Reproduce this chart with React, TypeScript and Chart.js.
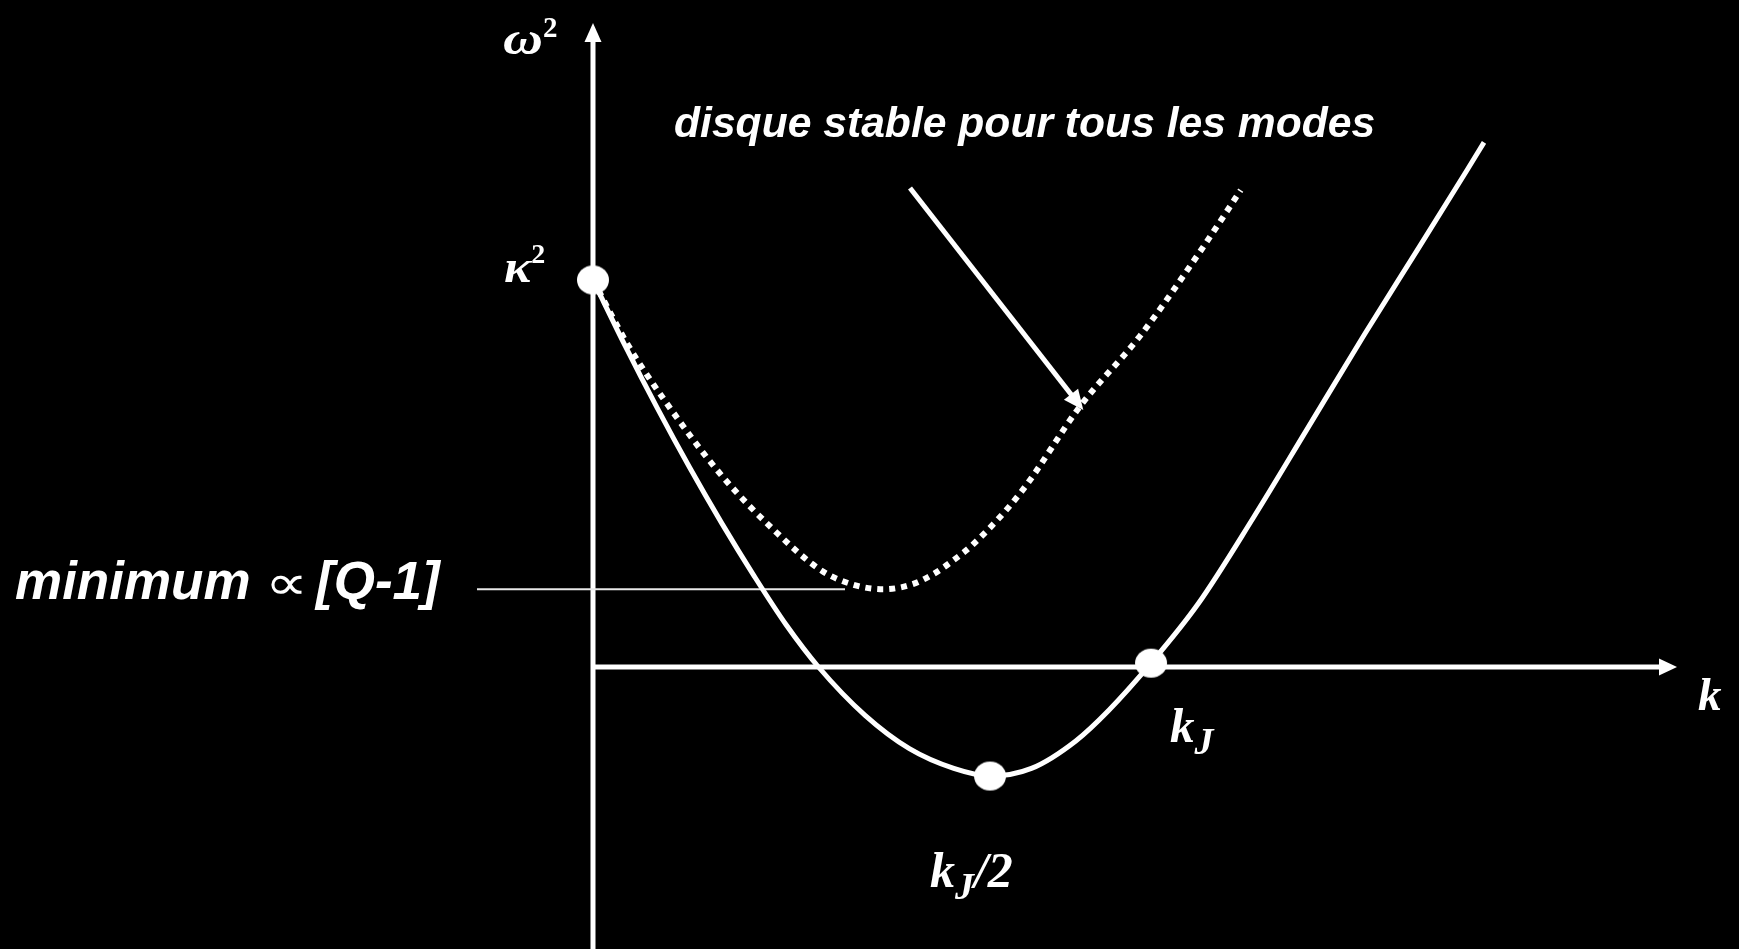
import React, { useEffect, useRef } from "react";
import { Chart, registerables } from "chart.js";

Chart.register(...registerables);

// k in units of k_J, ω² in units of κ²
// solid branch: the disc that goes unstable between the two zero crossings
const unstableK = [0, 0.0577, 0.1155, 0.1732, 0.2309, 0.2886, 0.3464, 0.4041, 0.4876, 0.567, 0.6466, 0.7115, 0.7857, 0.8652, 0.9249, 1.0, 1.0839, 1.1831, 1.2787, 1.3819, 1.4814, 1.5668, 1.5968];
const unstableW2 = [1.0, 0.8298, 0.6682, 0.5153, 0.3711, 0.2355, 0.1085, 0.0, -0.125, -0.211, -0.262, -0.2817, -0.262, -0.191, -0.111, 0.01, 0.162, 0.385, 0.612, 0.858, 1.087, 1.285, 1.3555];

// dotted branch: stable for every mode
const stableK = [0, 0.0627, 0.1298, 0.2292, 0.3285, 0.4099, 0.4665, 0.5197, 0.5722, 0.6111, 0.6464, 0.6798, 0.7652, 0.8746, 0.9803, 1.0878, 1.1608];
const stableW2 = [1.0, 0.832, 0.686, 0.497, 0.348, 0.2488, 0.2127, 0.2008, 0.2137, 0.2411, 0.2765, 0.3152, 0.4483, 0.677, 0.8553, 1.0731, 1.232];

// marked points: κ² at k = 0, the bottom at k_J/2, the crossing at k_J
const markK = [0, 0.7115, 1.0];
const markW2 = [1.0, -0.2817, 0.01];

// level of the stable minimum and the reach of its guide line
const stableMinW2 = 0.2008;
const minLineK = [-0.2079, 0.4516];

// pointer from the caption down to the dotted curve
const pointerK = [0.5681, 0.8787];
const pointerW2 = [1.2377, 0.6641];

// axis ends and view window
const kAxisEnd = 1.9427;
const w2AxisEnd = 1.6641;
const kRange = [-1.06272, 2.05376];
const w2Range = [-0.72868, 1.72351];

const caption = "disque stable pour tous les modes";
const minCaption = ["minimum", "∝", "[Q-1]"];

const serifBI = (px: number) => `italic bold ${px}px 'Liberation Serif', 'Times New Roman', serif`;
const serifB = (px: number) => `bold ${px}px 'Liberation Serif', 'Times New Roman', serif`;
const sansBI = (px: number) => `italic bold ${px}px 'Liberation Sans', Arial, sans-serif`;

// x: absolute offset from the anchor (px), sx: horizontal scale of the run
type Seg = { t: string; f: string; dy?: number; x?: number; sx?: number };
type Label = { k: number; w2: number; segs: Seg[] };

const labels: Label[] = [
  { k: -0.1613, w2: 1.584, segs: [{ t: "ω", f: serifBI(46), sx: 1.2 }, { t: "2", f: serifB(29), dy: -17 }] },
  { k: -0.1595, w2: 0.995, segs: [{ t: "κ", f: serifBI(46), sx: 1.12 }, { t: "2", f: serifB(28), dy: -19 }] },
  { k: 1.9803, w2: -0.1111, segs: [{ t: "k", f: serifBI(47) }] },
  { k: 1.0341, w2: -0.1938, segs: [{ t: "k", f: serifBI(49) }, { t: "J", f: serifBI(38), dy: 12 }] },
  {
    k: 0.6039,
    w2: -0.5685,
    segs: [{ t: "k", f: serifBI(50) }, { t: "J", f: serifBI(38), dy: 12 }, { t: "/2", f: serifBI(50) }],
  },
  { k: 0.1452, w2: 1.3695, segs: [{ t: caption, f: sansBI(42), sx: 1.015 }] },
  {
    k: -1.0394,
    w2: 0.1757,
    segs: [
      { t: minCaption[0], f: sansBI(53), x: 2 },
      { t: minCaption[1], f: "48px 'DejaVu Sans', sans-serif", sx: 1.25, x: 252 },
      { t: minCaption[2], f: sansBI(53), x: 303 },
    ],
  },
];

function arrowHead(ctx: CanvasRenderingContext2D, x: number, y: number, ang: number, len: number, wid: number) {
  ctx.save();
  ctx.translate(x, y);
  ctx.rotate(ang);
  ctx.beginPath();
  ctx.moveTo(0, 0);
  ctx.lineTo(-len, -wid / 2);
  ctx.lineTo(-len, wid / 2);
  ctx.closePath();
  ctx.fill();
  ctx.restore();
}

const overlay = {
  id: "overlay",
  beforeDraw(chart: any) {
    const { ctx, width, height } = chart;
    ctx.save();
    ctx.fillStyle = "#000";
    ctx.fillRect(0, 0, width, height);
    ctx.restore();
  },
  beforeDatasetsDraw(chart: any) {
    const { ctx } = chart;
    const xs = chart.scales.x;
    const ys = chart.scales.y;
    const X = (v: number) => xs.getPixelForValue(v);
    const Y = (v: number) => ys.getPixelForValue(v);
    ctx.save();
    ctx.strokeStyle = "#fff";
    ctx.fillStyle = "#fff";
    ctx.lineWidth = 5;
    ctx.lineCap = "butt";
    ctx.beginPath();
    ctx.moveTo(X(0), chart.height);
    ctx.lineTo(X(0), Y(w2AxisEnd) + 16);
    ctx.moveTo(X(0) - 2.5, Y(0));
    ctx.lineTo(X(kAxisEnd) - 16, Y(0));
    ctx.stroke();
    arrowHead(ctx, X(0), Y(w2AxisEnd), -Math.PI / 2, 19, 17);
    arrowHead(ctx, X(kAxisEnd), Y(0), 0, 18, 17);

    // pointer arrow
    const x1 = X(pointerK[0]), y1 = Y(pointerW2[0]);
    const x2 = X(pointerK[1]), y2 = Y(pointerW2[1]);
    const ang = Math.atan2(y2 - y1, x2 - x1);
    ctx.lineWidth = 5;
    ctx.beginPath();
    ctx.moveTo(x1, y1);
    ctx.lineTo(x2 - 14 * Math.cos(ang), y2 - 14 * Math.sin(ang));
    ctx.stroke();
    arrowHead(ctx, x2, y2, ang, 20, 18);
    ctx.restore();
  },
  afterDatasetsDraw(chart: any) {
    const { ctx } = chart;
    const xs = chart.scales.x;
    const ys = chart.scales.y;
    ctx.save();
    ctx.fillStyle = "#fff";
    ctx.textAlign = "left";
    ctx.textBaseline = "alphabetic";
    for (const lab of labels) {
      const ax = xs.getPixelForValue(lab.k);
      const ay = ys.getPixelForValue(lab.w2);
      let cx = 0;
      for (const s of lab.segs) {
        ctx.font = s.f;
        const sx = s.sx ?? 1;
        const left = s.x ?? cx;
        ctx.save();
        ctx.translate(ax + left, ay + (s.dy ?? 0));
        ctx.scale(sx, 1);
        ctx.fillText(s.t, 0, 0);
        ctx.restore();
        cx = left + ctx.measureText(s.t).width * sx;
      }
    }
    ctx.restore();
  },
};

export default function App() {
  const ref = useRef<HTMLCanvasElement>(null);
  useEffect(() => {
    document.body.style.margin = "0";
    document.body.style.background = "#000";
    const dot = document.createElement("canvas");
    dot.width = 34;
    dot.height = 31;
    const d = dot.getContext("2d")!;
    d.fillStyle = "#fff";
    d.beginPath();
    d.ellipse(17, 15.5, 16, 14.5, 0, 0, Math.PI * 2);
    d.fill();

    const chart = new Chart(ref.current!, {
      type: "scatter",
      data: {
        datasets: [
          {
            label: "points",
            data: markK.map((k, i) => ({ x: k, y: markW2[i] })),
            pointStyle: dot as any,
            pointRadius: 16,
            showLine: false,
            clip: false,
          },
          {
            label: "instable",
            data: unstableK.map((k, i) => ({ x: k, y: unstableW2[i] })),
            showLine: true,
            borderColor: "#fff",
            borderWidth: 5,
            pointRadius: 0,
            cubicInterpolationMode: "monotone",
          },
          {
            label: "stable",
            data: stableK.map((k, i) => ({ x: k, y: stableW2[i] })),
            showLine: true,
            borderColor: "#fff",
            borderWidth: 6,
            borderDash: [6, 6],
            borderCapStyle: "butt",
            pointRadius: 0,
            cubicInterpolationMode: "monotone",
          },
          {
            label: "minimum",
            data: minLineK.map((k) => ({ x: k, y: stableMinW2 })),
            showLine: true,
            borderColor: "#e8e8e8",
            borderWidth: 2,
            pointRadius: 0,
          },
        ],
      },
      options: {
        animation: false,
        responsive: false,
        events: [],
        layout: { padding: 0, autoPadding: false },
        plugins: { legend: { display: false }, tooltip: { enabled: false } },
        scales: {
          x: { type: "linear", min: kRange[0], max: kRange[1], display: false },
          y: { type: "linear", min: w2Range[0], max: w2Range[1], display: false },
        },
      },
      plugins: [overlay],
    });
    return () => chart.destroy();
  }, []);
  return (
    <div style={{ position: "fixed", inset: 0, background: "#000" }}>
      <canvas ref={ref} width={1739} height={949} style={{ display: "block" }} />
    </div>
  );
}
